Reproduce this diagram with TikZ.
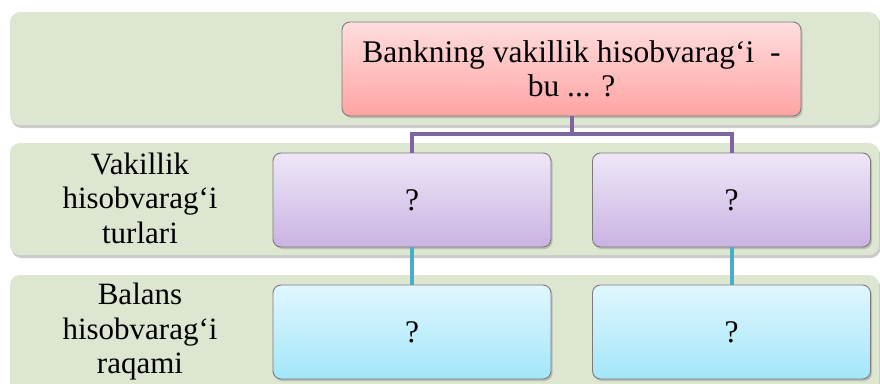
\documentclass[tikz,border=0pt]{standalone}
\usepackage{fontspec}
\setmainfont{Liberation Serif}
\usetikzlibrary{shadows}
\definecolor{bandgreen}{HTML}{DDE6D1}
\definecolor{boxborder}{HTML}{7A7A7A}
\definecolor{redtop}{HTML}{FFDEDE}
\definecolor{redbot}{HTML}{FFA3A3}
\definecolor{purtop}{HTML}{EEE7F7}
\definecolor{purbot}{HTML}{C9B3E2}
\definecolor{cyantop}{HTML}{E0F7FE}
\definecolor{cyanbot}{HTML}{A3E6F9}
\definecolor{purline}{HTML}{8064A2}
\definecolor{cyanline}{HTML}{4BACC6}
\tikzset{
  band/.style={rectangle, rounded corners=10pt, fill=bandgreen, draw=none,
    minimum width=869pt, inner sep=0pt, outer sep=0pt,
    drop shadow={shadow xshift=1.5pt, shadow yshift=-3pt, opacity=0.35, fill=black!60}},
  qbox/.style={rectangle, rounded corners=8pt, draw=boxborder, line width=0.9pt,
    minimum height=94pt, inner sep=0pt, outer sep=0pt, align=center,
    font=\fontsize{31.5pt}{33.5pt}\selectfont,
    drop shadow={shadow xshift=1.5pt, shadow yshift=-2pt, opacity=0.3, fill=black!60}},
  redbox/.style={qbox, top color=redtop, bottom color=redbot, minimum width=459pt},
  purbox/.style={qbox, top color=purtop, bottom color=purbot, minimum width=278pt},
  cyanbox/.style={qbox, top color=cyantop, bottom color=cyanbot, minimum width=278pt},
  bandlabel/.style={align=center, inner sep=0pt, font=\fontsize{31pt}{34.5pt}\selectfont},
  purconn/.style={draw=purline, line width=4pt},
  cyanconn/.style={draw=cyanline, line width=4pt},
}
\begin{document}
\begin{tikzpicture}[x=1pt, y=-1pt]
\useasboundingbox (0,0) rectangle (880,383);
\clip (0,0) rectangle (880,383);
% bands
\node[band, minimum height=113pt] (b1) at (444.5,68.5) {};
\node[band, minimum height=112pt] (b2) at (444.5,199) {};
\node[band, minimum height=118pt] (b3) at (444.5,334) {};
% band labels
\node[bandlabel] (l2) at (140,198) {Vakillik\\hisobvaragʻi\\turlari};
\node[bandlabel] (l3) at (140,332) {Balans\\hisobvaragʻi\\raqami};
% boxes
\node[redbox] (top) at (571.5,69) {Bankning vakillik hisobvarag‘i\ \ -\\bu ... ?};
\node[purbox] (pl) at (412,200) {?};
\node[purbox] (pr) at (731.5,200) {?};
\node[cyanbox] (cl) at (412,332) {?};
\node[cyanbox] (cr) at (731.5,332) {?};
% connectors
\coordinate (hub) at (571.5,134);
\draw[purconn] (top.south) -- (hub) -| (pl.north);
\draw[purconn] (hub) -| (pr.north);
\draw[cyanconn] (pl.south) -- (cl.north);
\draw[cyanconn] (pr.south) -- (cr.north);
\end{tikzpicture}
\end{document}
